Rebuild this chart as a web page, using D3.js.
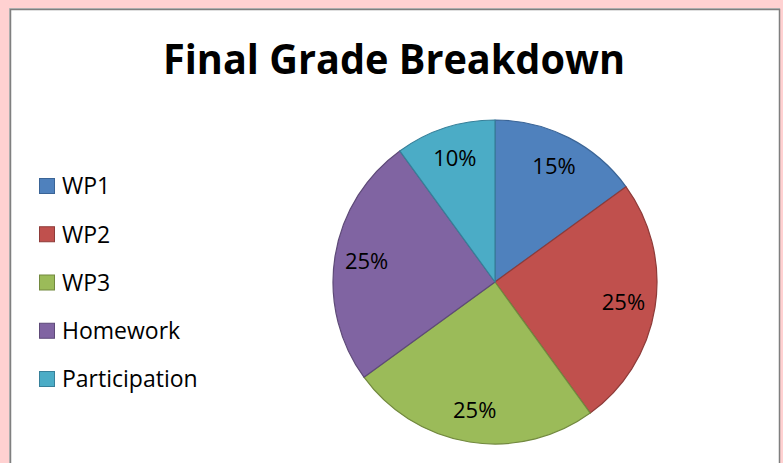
<!DOCTYPE html>
<html>
<head>
<meta charset="utf-8">
<script src="https://cdn.jsdelivr.net/npm/d3@7"></script>
<style>
  html, body { margin: 0; padding: 0; background: #ffd1d1; }
  svg { display: block; }
</style>
</head>
<body>
<div id="chart"></div>
<script>
// Data
var categories = ["WP1", "WP2", "WP3", "Homework", "Participation"];
var values = [15, 25, 25, 25, 10];
var colours = ["#4f81bd", "#c0504d", "#9bbb59", "#8064a2", "#4bacc6"];
var strokes = ["#3a6496", "#8e3b39", "#72893f", "#5e4a78", "#37809a"];

var width = 783, height = 463;

var svg = d3.select("#chart")
    .append("svg")
    .attr("width", width)
    .attr("height", height);

// Chart area frame
svg.append("rect")
    .attr("x", 9.5).attr("y", 8.5)
    .attr("width", 770).attr("height", 470)
    .attr("fill", "#ffffff")
    .attr("stroke", "#bdbdbd")
    .attr("stroke-width", 1);
svg.append("rect")
    .attr("x", 10.5).attr("y", 9.5)
    .attr("width", 769).attr("height", 470)
    .attr("fill", "none")
    .attr("stroke", "#7f7f7f")
    .attr("stroke-width", 1.5);

// Title
svg.append("text")
    .attr("x", 394).attr("y", 74)
    .attr("text-anchor", "middle")
    .attr("font-family", "'Open Sans', 'Noto Sans', sans-serif")
    .attr("font-weight", "bold")
    .attr("font-size", 42)
    .attr("textLength", 462)
    .attr("lengthAdjust", "spacingAndGlyphs")
    .text("Final Grade Breakdown");

// Pie
var radius = 162;
var g = svg.append("g")
    .attr("transform", "translate(495,282)");

var color = d3.scaleOrdinal().domain(categories).range(colours);
var stroke = d3.scaleOrdinal().domain(categories).range(strokes);

var pie = d3.pie().sort(null).value(function (d) { return d.value; });
var data_ready = pie(categories.map(function (c, i) { return { key: c, value: values[i] }; }));

var arcGenerator = d3.arc().innerRadius(0).outerRadius(radius);
var labelArc = d3.arc().innerRadius(130).outerRadius(130);

var total = d3.sum(values);

g.selectAll("path.slice")
    .data(data_ready)
    .enter()
    .append("path")
    .attr("class", "slice")
    .attr("d", arcGenerator)
    .attr("fill", function (d) { return color(d.data.key); })
    .attr("stroke", function (d) { return stroke(d.data.key); })
    .attr("stroke-width", 1.2)
    .attr("stroke-linejoin", "round");

g.selectAll("text.lbl")
    .data(data_ready)
    .enter()
    .append("text")
    .attr("class", "lbl")
    .attr("transform", function (d) { return "translate(" + labelArc.centroid(d) + ")"; })
    .attr("text-anchor", "middle")
    .attr("dy", "0.35em")
    .attr("font-family", "'Open Sans', 'Noto Sans', sans-serif")
    .attr("font-size", 22)
    .attr("fill", "#000")
    .text(function (d) { return Math.round(d.data.value / total * 100) + "%"; });

// Legend
var legendY = d3.scalePoint().domain(categories).range([186, 379]);

var legend = svg.selectAll("g.legend")
    .data(categories)
    .enter()
    .append("g")
    .attr("class", "legend")
    .attr("transform", function (d) { return "translate(39," + legendY(d) + ")"; });

legend.append("rect")
    .attr("x", 0.5).attr("y", -7.5)
    .attr("width", 15).attr("height", 15)
    .attr("fill", function (d) { return color(d); })
    .attr("stroke", function (d) { return stroke(d); })
    .attr("stroke-width", 1);

legend.append("text")
    .attr("x", 23).attr("y", 0)
    .attr("dy", "0.36em")
    .attr("font-family", "'Open Sans', 'Noto Sans', sans-serif")
    .attr("font-size", 23)
    .attr("fill", "#000")
    .text(function (d) { return d; });
</script>
</body>
</html>
